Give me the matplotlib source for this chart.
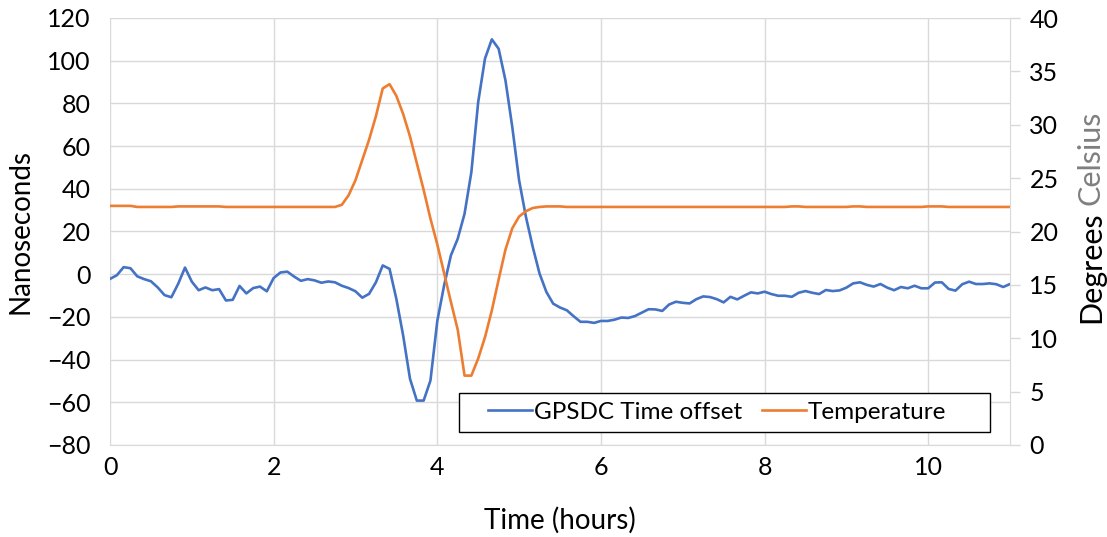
import numpy as np
import matplotlib
matplotlib.use('Agg')
import matplotlib.pyplot as plt
from matplotlib.patches import Rectangle

plt.rcParams['font.family'] = ['Lato', 'DejaVu Sans']

# GPSDC time offset (ns), one sample every 5 minutes
offset_ns = [
    -2.2, -0.5, 3.3, 2.8, -1.0, -2.3, -3.3, -6.2, -9.8, -10.8,
    -4.5, 3.1, -3.5, -7.5, -6.2, -7.5, -7.0, -12.3, -12.0, -5.5,
    -9.0, -6.5, -5.8, -8.0, -1.8, 0.8, 1.2, -1.1, -3.1, -2.3,
    -2.9, -4.0, -3.4, -3.8, -5.4, -6.5, -8.0, -11.0, -9.2, -3.8,
    4.1, 2.5, -11.6, -28.8, -49.0, -59.2, -59.2, -49.8, -22.0, -5.3,
    8.8, 16.6, 28.3, 47.8, 80.6, 101.0, 110.0, 105.6, 90.8, 69.0,
    44.0, 26.9, 12.8, 0.3, -8.3, -13.8, -15.6, -16.9, -19.7, -22.3,
    -22.3, -22.8, -21.9, -21.9, -21.3, -20.3, -20.5, -19.6, -18.0, -16.4,
    -16.5, -17.2, -14.2, -12.9, -13.4, -13.7, -11.7, -10.4, -10.7, -11.7,
    -13.2, -10.6, -11.8, -10.1, -8.5, -9.0, -8.2, -9.3, -10.1, -10.1,
    -10.6, -8.7, -7.9, -8.7, -9.3, -7.4, -7.9, -7.6, -6.3, -4.3,
    -3.8, -5.0, -5.8, -4.6, -6.3, -7.5, -6.0, -6.6, -5.4, -6.6,
    -6.6, -3.9, -3.8, -6.9, -7.7, -4.7, -3.5, -4.6, -4.6, -4.3,
    -4.7, -6.0, -4.6,
]

# temperature (deg C), same samples
temperature_c = [
    22.4, 22.4, 22.4, 22.4, 22.3, 22.3, 22.3, 22.3, 22.3, 22.3,
    22.35, 22.35, 22.35, 22.35, 22.35, 22.35, 22.35, 22.3, 22.3, 22.3,
    22.3, 22.3, 22.3, 22.3, 22.3, 22.3, 22.3, 22.3, 22.3, 22.3,
    22.3, 22.3, 22.3, 22.3, 22.5, 23.4, 24.8, 26.7, 28.6, 30.8,
    33.4, 33.8, 32.7, 31.0, 28.9, 26.4, 23.9, 21.2, 18.8, 16.1,
    13.4, 10.8, 6.5, 6.5, 8.1, 10.1, 12.6, 15.5, 18.3, 20.3,
    21.4, 21.9, 22.2, 22.3, 22.35, 22.35, 22.35, 22.3, 22.3, 22.3,
    22.3, 22.3, 22.3, 22.3, 22.3, 22.3, 22.3, 22.3, 22.3, 22.3,
    22.3, 22.3, 22.3, 22.3, 22.3, 22.3, 22.3, 22.3, 22.3, 22.3,
    22.3, 22.3, 22.3, 22.3, 22.3, 22.3, 22.3, 22.3, 22.3, 22.3,
    22.35, 22.35, 22.3, 22.3, 22.3, 22.3, 22.3, 22.3, 22.3, 22.35,
    22.35, 22.3, 22.3, 22.3, 22.3, 22.3, 22.3, 22.3, 22.3, 22.3,
    22.35, 22.35, 22.35, 22.3, 22.3, 22.3, 22.3, 22.3, 22.3, 22.3,
    22.3, 22.3, 22.3,
]

sample_minutes = 5
time_hours = np.arange(len(offset_ns)) * sample_minutes / 60

x_ticks = [0, 2, 4, 6, 8, 10]
left_ticks = [-80, -60, -40, -20, 0, 20, 40, 60, 80, 100, 120]
right_ticks = [0, 5, 10, 15, 20, 25, 30, 35, 40]

blue = '#4472C4'
orange = '#ED7D31'
grid_c = '#D9D9D9'

fig = plt.figure(figsize=(11.07, 5.37), dpi=100)
ax1 = fig.add_axes([110 / 1107, 1 - 445 / 537, 900 / 1107, 427 / 537])
ax2 = ax1.twinx()

l1, = ax1.plot(time_hours, offset_ns, color=blue, lw=1.9, label='GPSDC Time offset')
l2, = ax2.plot(time_hours, temperature_c, color=orange, lw=1.9, label='Temperature')

ax1.set_xlim(0, 11)
ax1.set_ylim(-80, 120)
ax2.set_ylim(0, 40)
ax1.set_xticks(x_ticks)
ax1.set_yticks(left_ticks)
ax2.set_yticks(right_ticks)

ax1.grid(True, color=grid_c, lw=1.0)
ax1.set_axisbelow(True)
for a in (ax1, ax2):
    for s in a.spines.values():
        s.set_visible(False)
ax2.spines['right'].set_visible(True)
ax2.spines['right'].set_color(grid_c)
ax1.spines['bottom'].set_visible(True)
ax1.spines['bottom'].set_color(grid_c)

ax1.tick_params(axis='x', length=0, pad=8, labelsize=18)
ax1.tick_params(axis='y', length=0, pad=14, labelsize=18)
ax2.tick_params(axis='y', length=7, width=1, color=grid_c, pad=7, labelsize=18)

ax1.set_xlabel('Time (hours)', fontsize=20, labelpad=20)
ax1.set_ylabel('Nanoseconds', fontsize=20)
ax1.yaxis.set_label_coords(-0.085, 0.5)

# right axis title: "Degrees" black, "Celsius" grey
ax2.text(1.09, 0.548, 'Degrees', transform=ax2.transAxes, rotation=90,
         rotation_mode='anchor', ha='right', va='center', fontsize=22, color='black')
ax2.text(1.09, 0.563, 'Celsius', transform=ax2.transAxes, rotation=90,
         rotation_mode='anchor', ha='left', va='center', fontsize=22, color='#7F7F7F')

# legend box
x0 = (459 - 110) / 900
y0 = (445 - 432) / 427
ax2.add_patch(Rectangle((x0, y0), (990 - 459) / 900, 39 / 427, transform=ax2.transAxes,
                        facecolor='white', edgecolor='black', lw=1.0, zorder=5, clip_on=False))
leg = ax2.legend(handles=[l1, l2], loc='center', ncol=2, frameon=False, fontsize=17.5,
                 bbox_to_anchor=(x0 + (990 - 459) / 1800 - 0.008, y0 + 39 / 854),
                 handlelength=1.8, handletextpad=0.1, columnspacing=0.8)
leg.set_zorder(6)

fig.savefig('out.png', dpi=100)
